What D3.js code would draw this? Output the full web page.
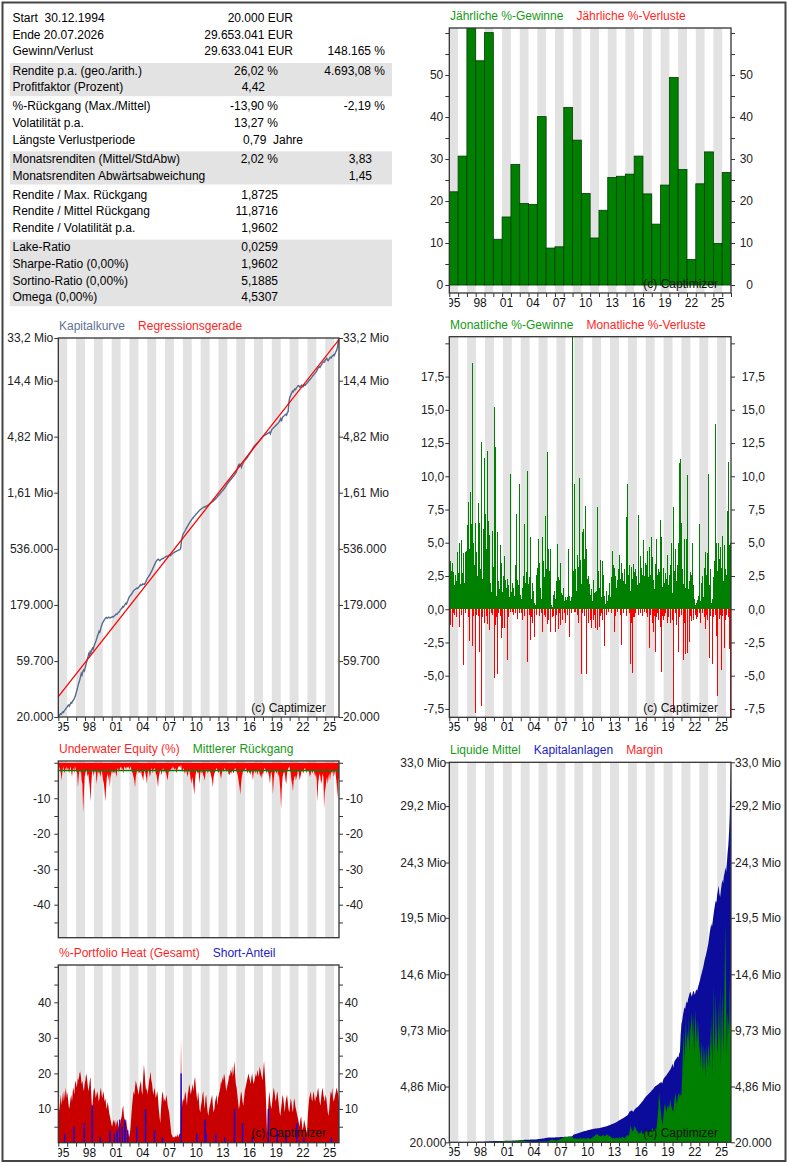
<!DOCTYPE html>
<html>
<head><meta charset="utf-8">
<style>
  body { margin: 0; background: #fff; }
  svg text { font-family: "Liberation Sans", Arial, sans-serif; font-size: 12px; }
</style>
</head>
<body>
<script src="https://d3js.org/d3.v7.min.js"></script>
<script>
// ---------------- data ----------------
var statLabels = ['Start  30.12.1994', 'Ende 20.07.2026', 'Gewinn/Verlust', 'Rendite p.a. (geo./arith.)',
  'Profitfaktor (Prozent)', '%-Rückgang (Max./Mittel)', 'Volatilität p.a.', 'Längste Verlustperiode',
  'Monatsrenditen (Mittel/StdAbw)', 'Monatsrenditen Abwärtsabweichung', 'Rendite / Max. Rückgang',
  'Rendite / Mittel Rückgang', 'Rendite / Volatilität p.a.', 'Lake-Ratio', 'Sharpe-Ratio (0,00%)',
  'Sortino-Ratio (0,00%)', 'Omega (0,00%)'];
var statValues = ['20.000 EUR', '29.653.041 EUR', '29.633.041 EUR', '26,02 %', '4,42', '-13,90 %', '13,27 %',
  '0,79  Jahre', '2,02 %', '', '1,8725', '11,8716', '1,9602', '0,0259', '1,9602', '5,1885', '4,5307'];
var statExtra = ['', '', '148.165 %', '4.693,08 %', '', '-2,19 %', '', '', '3,83', '1,45', '', '', '', '', '', '', ''];
var statGroups = [0, 0, 0, 1, 1, 2, 2, 2, 3, 3, 4, 4, 4, 5, 5, 5, 5];
var shadedGroups = [1, 3, 5];

var startDate = 1995.0, endDate = 2026.55;   // 30.12.1994 .. 20.07.2026
var startCapital = 20000;
var meanDrawdown = -2.19;

var yearTickLabels = ['95', '98', '01', '04', '07', '10', '13', '16', '19', '22', '25'];

// yearly gains 1995..2026 (%)
var yearlyGains = [22.2, 30.7, 61.5, 53.4, 60.1, 10.9, 16.2, 28.7, 19.4, 19.2, 40.1, 8.8, 9.1, 42.3, 34.5, 21.8,
  11.2, 17.8, 25.6, 25.9, 26.4, 30.7, 21.7, 14.5, 23.8, 49.4, 27.5, 6.1, 24.1, 31.7, 9.9, 26.8];
var yearlyLosses = [];
var yearlyAxisLabels = [0, 10, 20, 30, 40, 50];

// equity at month end, thousand EUR, Jan 1995 .. Jul 2026
var equityK = [
  20.4, 20.9, 21.3, 21.1, 21.7, 22.1, 21.9, 22.6, 23.0, 23.4, 23.9, 24.4,
  24.9, 25.3, 24.8, 25.7, 26.4, 26.2, 27.1, 27.6, 28.2, 29.1, 30.3, 31.9,
  33.6, 35.5, 37.8, 39.4, 41.5, 44.0, 46.9, 45.4, 48.6, 50.2, 49.1, 51.7,
  54.8, 58.0, 61.5, 64.3, 68.9, 67.0, 71.8, 69.6, 73.9, 76.8, 75.0, 79.4,
  82.6, 86.0, 89.2, 93.5, 98.4, 102.0, 106.8, 105.1, 111.2, 117.9, 123.5, 127.1,
  129.8, 133.5, 136.4, 138.9, 140.2, 137.8, 139.6, 141.4, 140.0, 139.1, 140.5, 140.9,
  142.3, 141.0, 143.8, 145.2, 146.9, 149.5, 148.6, 151.8, 154.3, 156.2, 159.8, 163.8,
  166.0, 168.7, 173.4, 171.9, 177.0, 180.6, 184.8, 182.4, 189.9, 196.5, 204.8, 210.8,
  214.2, 217.5, 222.4, 227.6, 233.8, 238.0, 240.9, 243.5, 246.8, 249.2, 247.0, 251.7,
  256.0, 260.8, 266.5, 262.4, 264.8, 270.2, 268.6, 267.1, 272.8, 281.4, 290.6, 300.0,
  306.5, 314.2, 320.0, 328.8, 339.5, 346.3, 359.0, 371.2, 383.6, 394.0, 408.5, 420.3,
  428.0, 434.9, 438.2, 431.5, 425.8, 433.0, 437.6, 441.0, 444.3, 447.1, 452.0, 457.3,
  461.0, 465.8, 460.2, 467.4, 472.9, 477.3, 470.8, 475.2, 481.0, 488.6, 494.5, 498.9,
  502.3, 507.6, 511.0, 514.8, 518.3, 522.9, 526.4, 529.0, 540.5, 612.0, 668.0, 710.0,
  728.5, 746.0, 764.3, 786.8, 808.1, 830.6, 849.2, 871.4, 893.0, 912.7, 933.5, 954.8,
  972.0, 990.4, 1008.6, 1025.3, 1041.0, 1060.2, 1078.8, 1095.5, 1112.0, 1129.8, 1146.3, 1163.0,
  1175, 1188, 1196, 1211, 1221, 1215, 1231, 1243, 1250, 1264, 1278, 1293,
  1309, 1322, 1341, 1353, 1370, 1388, 1405, 1422, 1446, 1470, 1497, 1523,
  1548, 1580, 1604, 1632, 1661, 1688, 1720, 1748, 1780, 1821, 1868, 1913,
  1950, 1987, 2022, 2059, 2095, 2135, 2172, 2209, 2250, 2296, 2351, 2409,
  2520, 2650, 2760, 2700, 2811, 2750, 2640, 2760, 2850, 2930, 3000, 3045,
  3090, 3150, 3221, 3296, 3373, 3451, 3531, 3612, 3701, 3795, 3885, 3980,
  4042, 4106, 4170, 4235, 4301, 4369, 4437, 4506, 4578, 4651, 4738, 4843,
  4890, 4933, 4975, 5020, 5066, 5113, 5160, 5208, 5266, 5100, 5320, 5546,
  5620, 5700, 5785, 5871, 5960, 6050, 6145, 6241, 6340, 6471, 6650, 6866,
  6500, 6900, 7105, 7190, 7280, 7380, 7481, 7350, 7720, 7850, 9400, 10257,
  10600, 11050, 11400, 11750, 11600, 12000, 12250, 12100, 12480, 12700, 12950, 13078,
  12900, 12650, 12950, 13200, 13050, 12800, 13100, 13300, 13150, 13400, 13650, 13876,
  14100, 14400, 14650, 14900, 15150, 15450, 15800, 16050, 16300, 16600, 16900, 17220,
  17700, 18200, 18600, 19000, 18700, 19200, 19700, 20200, 20600, 21000, 20800, 21500,
  21900, 22300, 21600, 21300, 21900, 22400, 22800, 22500, 23100, 23400, 23900, 23500,
  24200, 25100, 25800, 26900, 28600, 32900, 29653];

// regression line end points [date, EUR]
var regressionLine = [[1995.0, 29760], [2026.55, 32200000]];
var capitalTicks = [20000, 59700, 179000, 536000, 1610000, 4820000, 14400000, 33200000];
var capitalTickLabels = ['20.000', '59.700', '179.000', '536.000', '1,61 Mio', '4,82 Mio', '14,4 Mio', '33,2 Mio'];

// monthly gross gains / losses (%), Jan 1995 .. Jul 2026
var monthlyGains = [
  3.4, 3.6, 2.9, 1.2, 3.5, 2.8, 1.8, 2.6, 0.4, 2.1, 1.6, 4.3,
  2.7, 5.0, 1.9, 0.3, 5.2, 2.7, 1.4, 4.2, 2.0, 4.3, 3.1, 4.4,
  6.3, 8.1, 3.0, 4.5, 8.8, 6.4, 3.2, 18.5, 5.0, 3.3, 6.5, 6.0,
  4.3, 2.5, 8.0, 5.1, 6.5, 3.0, 12.6, 1.2, 2.3, 6.0, 11.4, 3.3,
  7.2, 4.5, 5.7, 11.9, 6.6, 3.0, 5.6, 2.0, 1.3, 4.1, 5.9, 3.2,
  15.2, 12.2, 4.3, 1.0, 5.8, 0.6, 2.1, 1.5, 4.8, 2.0, 3.5, 1.3,
  2.5, 4.0, 2.8, 2.2, 1.6, 0.5, 2.3, 1.8, 0.9, 10.2, 2.1, 1.3,
  2.0, 0.9, 1.6, 1.0, 3.3, 0.7, 7.2, 2.2, 0.4, 1.8, 9.4, 1.1,
  0.8, 0.5, 1.6, 2.5, 4.2, 6.4, 2.0, 2.8, 5.2, 10.4, 1.9, 2.4,
  5.4, 1.5, 0.8, 2.0, 1.4, 0.9, 0.5, 0.3, 1.2, 2.6, 3.1, 5.3,
  2.2, 3.5, 1.6, 0.8, 5.4, 4.4, 3.6, 2.4, 4.0, 7.0, 3.0, 11.8,
  4.4, 4.5, 2.9, 4.5, 0.5, 0.3, 0.2, 0.4, 1.1, 1.4, 0.8, 2.1,
  1.3, 4.9, 2.4, 2.2, 1.8, 3.5, 1.2, 0.7, 1.1, 1.6, 0.6, 0.9,
  0.5, 0.7, 0.9, 4.5, 0.4, 1.0, 0.6, 0.8, 0.9, 21.5, 2.9, 9.4,
  2.2, 3.0, 1.4, 4.1, 2.5, 3.2, 9.9, 2.8, 3.7, 1.9, 5.8, 2.6,
  6.0, 3.8, 7.8, 2.4, 4.5, 2.3, 1.6, 2.5, 1.9, 1.1, 0.8, 1.5,
  0.6, 2.2, 1.2, 0.9, 1.3, 1.4, 0.8, 7.7, 2.9, 1.6, 3.7, 1.5,
  0.9, 3.6, 2.6, 1.8, 1.0, 0.4, 0.3, 1.4, 0.6, 1.1, 2.0, 1.3,
  0.9, 2.4, 4.4, 2.7, 3.3, 1.8, 3.1, 2.5, 1.6, 2.2, 2.0, 3.0,
  4.1, 2.3, 1.8, 3.5, 2.7, 2.1, 1.5, 3.0, 1.9, 6.9, 2.4, 9.4,
  2.6, 3.3, 2.0, 1.4, 3.2, 2.3, 1.6, 3.4, 2.8, 3.0, 2.2, 2.5,
  1.8, 2.1, 7.1, 2.0, 4.0, 3.1, 2.0, 2.6, 1.7, 5.2, 2.5, 3.5,
  2.8, 3.3, 4.4, 2.4, 3.7, 4.7, 2.6, 5.4, 3.9, 3.0, 2.2, 1.5,
  2.1, 3.4, 5.3, 2.6, 3.0, 1.9, 2.8, 6.7, 2.5, 5.4, 1.7, 3.1,
  2.0, 1.4, 2.7, 2.3, 3.2, 4.1, 1.8, 2.6, 2.0, 3.3, 5.0, 1.2,
  2.4, 7.7, 2.9, 1.8, 4.5, 2.1, 3.3, 5.0, 2.6, 11.0, 11.3, 4.0,
  6.5, 3.0, 1.9, 5.3, 2.4, 1.6, 5.3, 3.8, 10.1, 1.5, 2.1, 2.8,
  1.9, 2.6, 5.0, 1.1, 1.8, 0.8, 0.3, 0.4, 0.5, 0.7, 1.0, 6.4,
  1.2, 0.6, 2.0, 1.3, 2.5, 0.9, 3.1, 4.3, 1.4, 2.6, 4.2, 2.3,
  10.2, 1.8, 3.0, 1.2, 0.5, 0.8, 1.9, 2.4, 3.6, 13.9, 3.2, 5.0,
  2.9, 5.0, 3.8, 2.2, 4.7, 3.1, 5.5, 2.6, 2.1, 4.8, 1.9, 3.0,
  2.6, 7.4, 11.1, 3.5, 4.8, 5.0, 4.6];
var monthlyLosses = [
  -0.8, -1.2, 0, -1.3, 0, -0.3, -0.4, 0, 0, -0.6, 0, 0,
  0, -1.3, 0, 0, -0.4, 0, -0.5, -4.2, 0, -0.3, 0, 0,
  0, -0.6, 0, -2.4, 0, 0, -1.0, -2.8, -0.5, 0, -7.8, 0,
  -0.4, 0, -0.5, 0, -3.2, 0, 0, -7.3, -0.6, 0, -1.0, 0,
  0, -0.5, 0, -1.1, 0, -1.6, -0.8, 0, -0.3, 0, -0.4, 0,
  -5.2, -1.2, 0, -0.6, -4.9, 0, -0.3, 0, -0.5, -2.2, 0, -1.4,
  0, -0.5, -1.4, 0, 0, -3.8, 0, -0.6, 0, 0, -0.2, 0,
  -0.2, 0, -0.4, 0, -0.3, 0, 0, -0.7, 0, 0, -0.3, 0,
  0, -0.3, -0.8, 0, 0, -0.5, 0, 0, -4.0, -3.5, 0, -0.4,
  -2.3, 0, -0.6, -1.0, 0, 0, -2.1, 0, -0.3, -0.4, 0, 0,
  -0.5, 0, 0, -0.3, -1.7, 0, 0, -0.4, -0.6, 0, 0, -1.1,
  0, -0.8, 0, -0.3, -1.7, 0, -0.6, 0, -0.5, 0, -1.7, 0,
  -0.4, 0, -1.5, 0, -0.3, -1.2, 0, -0.5, -0.8, 0, -0.3, 0,
  -1.0, 0, -0.4, 0, 0, -2.1, 0, -0.3, 0, 0, 0, -0.2,
  0, -0.2, 0, -0.4, 0, -1.0, 0, 0, 0, -4.9, 0, -0.3,
  0, -0.5, 0, 0, -4.9, 0, -0.6, -1.0, 0, -0.8, -0.5, -1.4,
  0, -0.8, -0.4, 0, -1.4, 0, -1.6, -0.3, 0, -1.3, -0.5, 0,
  -0.3, -0.8, 0, 0, -2.8, 0, -0.4, 0, 0, -0.2, 0, 0,
  0, -0.3, 0, 0, 0, -1.7, 0, -0.5, 0, 0, -0.2, 0,
  0, 0, -0.4, -2.7, 0, 0, -0.3, 0, 0, 0, -0.5, 0,
  0, -0.3, 0, -4.1, -1.0, -2.0, -4.8, -0.6, -0.6, 0, -0.3, 0,
  0, -0.4, 0, 0, -0.3, 0, 0, -0.5, 0, 0, -0.2, 0,
  -0.3, 0, -0.6, 0, -2.9, 0, -0.4, 0, -1.0, 0, -1.7, -0.5,
  -3.2, 0, -0.6, -0.3, 0, -0.8, 0, -1.3, 0, -4.7, -0.5, -0.8,
  0, -0.5, -0.3, 0, -1.0, 0, -0.6, 0, -1.0, -0.4, 0, -0.8,
  -7.8, -0.5, 0, -0.3, 0, -1.2, 0, -3.2, 0, -0.6, 0, 0,
  -0.4, 0, -3.8, -1.0, 0, -3.4, 0, -0.8, -3.3, 0, -2.5, -0.5,
  0, -0.9, 0, -0.5, -0.8, 0, -0.4, -0.7, 0, -0.6, 0, -0.3,
  0, -1.0, 0, -0.3, 0, 0, -0.6, -1.5, 0, -0.4, 0, -0.8,
  0, -3.7, 0, -0.5, 0, -4.1, 0, -0.6, 0, -0.4, -2.0, 0,
  -6.5, 0, -0.7, 0, -0.4, -4.6, 0, -0.5, 0, -2.9, -0.8, 0,
  -0.4, 0, -0.6, 0, -3.0, -8.5, 0];
var monthlyAxisLabels = [-7.5, -5, -2.5, 0, 2.5, 5, 7.5, 10, 12.5, 15, 17.5];

// underwater equity, worst value per month (%)
var underwater = [
  -0.5, -1.5, -2, -3, -5, -2.5, -1, -2, -3, -1.5, -2, -1,
  -2, -1.5, -3, -2, -1, -2.5, -4, -2, -1.5, -3, -1, -2,
  -2.5, -3, -7, -4, -2, -3, -2, -5, -6, -14, -9, -4,
  -3, -2, -2.5, -4, -3, -5, -7, -11, -6, -3, -2, -4,
  -2, -3, -2, -6, -4, -2, -3, -2.5, -4, -3, -2, -3.5,
  -5, -6, -8, -11, -7, -4, -3, -5, -3, -7, -4, -3,
  -2, -3, -2.5, -3, -2, -3, -4, -2, -1.5, -2.5, -2, -1.5,
  -1, -2, -1.5, -3, -2, -1, -1.5, -2, -1, -1.5, -1, -2,
  -1.5, -1, -2, -2.5, -3, -4, -5, -7, -4, -3, -2, -2,
  -3, -2.5, -3, -2, -3.5, -4, -5, -3, -2, -3, -4, -6,
  -3, -2, -2.5, -4, -3, -1.5, -2, -3, -2, -1.5, -2, -3,
  -3.5, -5, -7, -4, -3, -2, -2.5, -3.5, -2, -1.5, -3, -2,
  -2.5, -3, -4, -5, -3, -2, -2.5, -2, -1.5, -2, -1, -1.5,
  -2, -1.5, -2, -3, -2, -1.5, -1, -1, -1.5, -0.5, -2, -2.5,
  -1.5, -2, -3, -2.5, -2, -3, -4, -2.5, -2, -3, -4.5, -6,
  -4, -5, -7, -9, -5, -3, -2, -3, -2.5, -3, -6, -3,
  -2, -3, -2.5, -3.5, -4, -5, -3, -2, -2, -3, -2.5, -2,
  -2.5, -3, -4, -5, -7, -4, -3, -2.5, -2, -1.5, -2, -2.5,
  -3, -2, -3.5, -4.5, -3, -2, -2.5, -2, -1.5, -2, -2.5, -2,
  -2, -3, -3.5, -3, -2.5, -3, -2, -2.5, -3, -2, -1.5, -2,
  -2.5, -3, -4, -5.5, -7, -9, -6, -4, -3, -2, -2.5, -2,
  -1.5, -2, -2.5, -3, -2, -3, -2.5, -3.5, -2, -3, -5, -3,
  -2, -2.5, -3, -2, -3.5, -2.5, -2, -3, -4, -3, -4.5, -3,
  -3, -2, -1.5, -2, -2.5, -3, -2, -3, -4, -6, -3, -2.5,
  -4, -9, -5, -3, -2, -2.5, -3, -2, -4, -3, -5, -8,
  -13, -7, -4, -3, -2.5, -3, -5, -6, -3, -2, -1.5, -1,
  -2, -3, -5, -6, -8, -5, -4, -3.5, -5, -4, -3, -2,
  -3, -5, -4, -3, -2, -2.5, -3, -2, -1.5, -2, -3, -2,
  -2.5, -2, -3, -4, -3, -2, -3, -2.5, -2, -3, -4, -3,
  -5, -11, -6, -4, -3, -4, -6, -5, -3, -4, -13, -8,
  -7, -5, -4, -6, -4, -3, -5, -3, -2.5, -3, -2, -4,
  -3, -2, -4, -6, -10, -5, -4];
var underwaterAxisLabels = [-40, -30, -20, -10];

// portfolio heat per month (%)
var heat = [
  9, 10, 12, 14, 11, 13, 15, 12, 14, 16, 13, 15,
  14, 12, 10, 11, 13, 14, 12, 15, 16, 14, 17, 18,
  16, 17, 19, 18, 20, 20.5, 19, 17, 18, 16, 15, 17,
  18, 20, 19, 17, 15, 16, 18, 19, 14, 10, 12, 15,
  16, 15, 13, 14, 15, 14, 12, 13, 15, 16, 14, 13,
  15, 14, 12, 13, 11, 10, 12, 11, 9, 8, 7, 6,
  5, 6, 7, 6, 7, 5, 6, 7, 6, 5, 4, 6,
  7, 8, 10, 11, 8, 7, 6, 7, 5, 4, 3, 2,
  3, 5, 8, 11, 13, 15, 14, 16, 18, 17, 16, 15,
  14, 16, 17, 18, 15, 14, 19, 22.5, 20, 17, 15, 16,
  14, 16, 18, 19, 20.5, 18, 17, 15, 14, 16, 15, 13,
  14, 15, 13, 10, 8, 6, 10, 13, 15, 14, 12, 13,
  12, 14, 13, 11, 10, 9, 7, 5, 3, 2.5, 2, 2,
  2, 2, 2.5, 2, 3, 2, 2.5, 3, 3, 30, 10, 12,
  13, 12, 14, 15, 13, 11, 14, 15, 17, 16, 14, 15,
  16, 17, 15, 18, 19, 16, 14, 12, 15, 13, 10, 9,
  11, 12, 14, 15, 12, 10, 13, 14, 11, 9, 8, 10,
  11, 12, 13, 14, 11, 9, 10, 12, 13, 14, 11, 13,
  14, 15, 16, 18, 17, 19, 18, 20, 19, 17, 15, 16,
  17, 18, 20, 19, 21, 20, 22, 19, 21, 23.5, 20, 17,
  16, 14, 12, 10, 11, 13, 15, 14, 12, 11, 13, 15,
  16, 17, 18, 19, 20, 19, 18, 17, 19, 20, 18, 17,
  18, 19, 20, 19, 21, 20, 19, 22, 21, 20, 19, 18,
  21, 23.5, 20, 16, 10, 3, 8, 12, 15, 13, 11, 10,
  12, 14, 16, 15, 13, 12, 14, 15, 13, 11, 9, 8,
  10, 12, 14, 13, 11, 9, 12, 13, 14, 12, 10, 9,
  11, 13, 12, 10, 9, 12, 13, 11, 10, 9, 8, 7,
  6, 5, 7, 8, 6, 4, 5, 7, 6, 5, 4, 3,
  8, 11, 13, 14, 15, 13, 12, 14, 15, 13, 12, 14,
  13, 15, 16, 14, 12, 11, 13, 15, 16, 14, 13, 12,
  14, 13, 11, 9, 8, 10, 13, 15, 14, 16, 13, 12,
  13, 14, 15, 16, 15, 14, 12];
// short share spikes [date, %]
var shortSpikes = [[1995.7, 3], [1996.75, 5], [1997.9, 6], [1998.8, 11], [1999.7, 2], [2000.8, 4], [2001.3, 3],
  [2001.6, 4], [2001.9, 7], [2002.2, 5], [2002.5, 7], [2002.8, 4], [2003.8, 5], [2004.8, 10], [2005.8, 4],
  [2006.7, 2], [2008.8, 20], [2010.55, 3], [2011.5, 7], [2011.6, 3], [2012.7, 3], [2013.7, 2], [2014.8, 10],
  [2015.7, 6], [2016.8, 2], [2018.6, 10], [2019.6, 4], [2020.6, 3], [2021.8, 6], [2022.6, 2], [2025.7, 2]];
var heatAxisLabels = [10, 20, 30, 40];

// liquid cash as share of equity per month (%)
var cashPct = [
  55, 48, 40, 35, 38, 42, 45, 40, 36, 33, 30, 35,
  40, 38, 45, 42, 36, 34, 30, 32, 28, 25, 30, 27,
  25, 28, 22, 20, 26, 24, 30, 35, 28, 25, 32, 30,
  28, 30, 33, 35, 30, 40, 32, 38, 45, 35, 30, 33,
  35, 38, 40, 36, 33, 30, 35, 32, 38, 40, 42, 45,
  48, 50, 55, 60, 58, 62, 65, 68, 70, 72, 75, 78,
  80, 82, 85, 83, 86, 88, 85, 82, 84, 86, 88, 85,
  80, 78, 75, 72, 76, 80, 82, 85, 88, 90, 92, 94,
  90, 85, 78, 70, 60, 55, 45, 40, 42, 38, 36, 35,
  38, 32, 30, 28, 25, 22, 26, 30, 28, 24, 20, 22,
  25, 28, 24, 22, 20, 25, 30, 26, 22, 20, 24, 28,
  30, 32, 38, 45, 55, 60, 52, 48, 45, 42, 40, 38,
  42, 45, 50, 55, 60, 65, 70, 78, 85, 90, 92, 94,
  95, 96, 95, 94, 95, 96, 96, 95, 93, 70, 55, 50,
  52, 48, 45, 42, 40, 38, 42, 45, 40, 36, 34, 38,
  40, 35, 32, 30, 34, 38, 36, 33, 30, 28, 32, 35,
  38, 42, 45, 50, 55, 60, 58, 52, 48, 45, 42, 40,
  45, 50, 48, 44, 40, 42, 46, 50, 45, 40, 38, 35,
  32, 28, 25, 22, 24, 20, 22, 25, 23, 20, 18, 22,
  24, 20, 18, 22, 25, 20, 18, 16, 20, 24, 28, 25,
  22, 30, 45, 55, 40, 35, 38, 42, 50, 45, 38, 35,
  30, 25, 28, 22, 26, 30, 24, 20, 22, 25, 28, 24,
  22, 25, 20, 18, 22, 24, 20, 26, 28, 22, 20, 24,
  26, 22, 30, 45, 60, 85, 70, 55, 40, 35, 30, 45,
  55, 60, 50, 45, 50, 55, 48, 52, 60, 50, 45, 40,
  42, 48, 55, 60, 50, 45, 52, 58, 55, 50, 45, 40,
  55, 70, 85, 60, 75, 90, 65, 80, 70, 85, 60, 75,
  80, 90, 70, 85, 60, 75, 88, 72, 65, 80, 70, 60,
  55, 45, 60, 50, 40, 55, 48, 35, 52, 45, 38, 50,
  45, 35, 55, 40, 60, 30, 70, 45, 38, 62, 50, 40,
  35, 55, 40, 65, 30, 48, 58, 35, 45, 60, 80, 55,
  30, 45, 40, 35, 50, 30, 35];
var liquidTicks = [20000, 4860000, 9730000, 14600000, 19500000, 24300000, 29200000, 33000000];
var liquidTickLabels = ['20.000', '4,86 Mio', '9,73 Mio', '14,6 Mio', '19,5 Mio', '24,3 Mio', '29,2 Mio', '33,0 Mio'];

// ---------------- drawing ----------------
var GREEN = '#008000', RED = '#ff0000', NAVY = '#0c0c9c';
var GREEN_TXT = '#179a17', RED_TXT = '#ff1f1f', BLUE_TXT = '#1c1cc8', SLATE = '#5f7398';
var de = d3.formatLocale({decimal: ',', thousands: '.', grouping: [3], currency: ['', ' EUR'], minus: '-'});

var W = 789, H = 1165;
var svg = d3.select('body').append('svg').attr('width', W).attr('height', H);

svg.append('rect').attr('x', 2.5).attr('y', 2.5).attr('width', 783).attr('height', 1158.5)
  .attr('fill', 'none').attr('stroke', '#444').attr('stroke-width', 2);

// statistics table
var rowY = function(i) { return 22 + i * 16.7 + statGroups[i] * 2.4; };
shadedGroups.forEach(function(gi) {
  var rows = d3.range(statLabels.length).filter(function(i) { return statGroups[i] === gi; });
  svg.append('rect').attr('x', 10).attr('width', 382)
    .attr('y', rowY(rows[0]) - 11.5)
    .attr('height', rowY(rows[rows.length - 1]) - rowY(rows[0]) + 16.5)
    .attr('fill', '#e3e3e3');
});

function placeValue(sel, v, colEnd) {
  if (/EUR$/.test(v)) sel.attr('x', colEnd + 15).attr('text-anchor', 'end');
  else if (/Jahre/.test(v)) sel.attr('x', colEnd - 35).attr('text-anchor', 'start');
  else if (/%$/.test(v) || /,\d{4}$/.test(v)) sel.attr('x', colEnd).attr('text-anchor', 'end');
  else sel.attr('x', colEnd - 13).attr('text-anchor', 'end');
}

var table = svg.append('g');
statLabels.forEach(function(lab, i) {
  table.append('text').attr('x', 12.5).attr('y', rowY(i)).style('white-space', 'pre').text(lab);
  if (statValues[i]) {
    var t = table.append('text').attr('y', rowY(i)).style('white-space', 'pre').text(statValues[i]);
    placeValue(t, statValues[i], 278);
  }
  if (statExtra[i]) {
    var t2 = table.append('text').attr('y', rowY(i)).style('white-space', 'pre').text(statExtra[i]);
    placeValue(t2, statExtra[i], 385);
  }
});

var clipCount = 0;
function labelYear(s) { return +s < 50 ? 2000 + +s : 1900 + +s; }

function panel(o) {
  var x = d3.scaleLinear().domain(o.xDomain).range([o.left, o.right]);
  var y = o.y.range([o.bottom, o.top]);
  var g = svg.append('g');
  var cid = 'clip' + (clipCount++);
  g.append('clipPath').attr('id', cid).append('rect')
    .attr('x', o.left).attr('y', o.top).attr('width', o.right - o.left).attr('height', o.bottom - o.top);

  var bandYears = d3.range(Math.floor(o.xDomain[0]), Math.ceil(o.xDomain[1]))
    .filter(function(d) { return d % 2 === 1; });
  g.append('g').selectAll('rect').data(bandYears).join('rect')
    .attr('x', function(d) { return x(d); })
    .attr('width', function(d) { return x(Math.min(d + 1, o.xDomain[1])) - x(d); })
    .attr('y', o.top).attr('height', o.bottom - o.top).attr('fill', '#e2e2e2');

  var plot = g.append('g').attr('clip-path', 'url(#' + cid + ')');
  o.draw(plot, x, y);

  if (o.copyright) {
    g.append('text').attr('x', o.right - 13).attr('y', o.bottom - 5.5)
      .attr('text-anchor', 'end').attr('fill', '#111').text('(c) Captimizer');
  }

  g.append('rect').attr('x', o.left).attr('y', o.top)
    .attr('width', o.right - o.left).attr('height', o.bottom - o.top)
    .attr('fill', 'none').attr('stroke', '#333').attr('stroke-width', 1.3);

  var la = g.append('g').attr('transform', 'translate(' + o.left + ',0)')
    .call(d3.axisLeft(y).tickValues(o.yTicks).tickSize(4).tickSizeOuter(0)
      .tickPadding(o.lpad - 4).tickFormat(o.yLabel));
  var ra = g.append('g').attr('transform', 'translate(' + o.right + ',0)')
    .call(d3.axisRight(y).tickValues(o.yTicks).tickSize(4).tickSizeOuter(0).tickFormat(o.yLabel));
  ra.selectAll('text').attr('x', o.rOff).attr('text-anchor', o.rAnchor);
  [la, ra].forEach(function(a) {
    a.select('.domain').remove();
    a.attr('font-size', null).attr('font-family', null).attr('color', '#222');
    a.selectAll('line').attr('stroke', '#333');
  });

  if (o.xAxis) {
    var xa = g.append('g').attr('transform', 'translate(0,' + o.bottom + ')')
      .call(d3.axisBottom(x).tickValues(d3.range(Math.ceil(o.xDomain[0]), Math.floor(o.xDomain[1]) + 1))
        .tickSize(4).tickSizeOuter(0).tickFormat(''));
    xa.select('.domain').remove();
    xa.selectAll('line').attr('stroke', '#333');
    var xcid = 'clip' + (clipCount++);
    g.append('clipPath').attr('id', xcid).append('rect')
      .attr('x', o.left).attr('y', o.bottom).attr('width', o.right - o.left + 2).attr('height', 20);
    g.append('g').attr('clip-path', 'url(#' + xcid + ')')
      .selectAll('text').data(yearTickLabels).join('text')
      .attr('x', function(d) { return x(labelYear(d) + 0.5); })
      .attr('y', o.bottom + 14).attr('text-anchor', 'middle').attr('fill', '#111')
      .text(function(d) { return d; });
  }

  var lx = o.left + 0.7;
  o.legend.forEach(function(item) {
    var t = g.append('text').attr('x', lx).attr('y', o.top - 8).attr('fill', item[1]).text(item[0]);
    lx += t.node().getComputedTextLength() + 13;
  });
}

function monthDate(i) { return 1995 + i / 12; }

// yearly returns
panel({
  left: 449.3, right: 731, top: 28, bottom: 293, xDomain: [1995, 2027],
  y: d3.scaleLinear().domain([-1.9, 61.2]),
  yTicks: d3.range(0, 61, 5),
  yLabel: function(d) { return yearlyAxisLabels.indexOf(d) >= 0 ? String(d) : ''; },
  lpad: 6, rAnchor: 'end', rOff: 22, xAxis: true, copyright: true,
  legend: [['Jährliche %-Gewinne', GREEN_TXT], ['Jährliche %-Verluste', RED_TXT]],
  draw: function(p, x, y) {
    p.selectAll('rect.gain').data(yearlyGains).join('rect').attr('class', 'gain')
      .attr('x', function(d, i) { return x(1995 + i); })
      .attr('width', function(d, i) { return x(1996 + i) - x(1995 + i); })
      .attr('y', function(d) { return y(d); })
      .attr('height', function(d) { return y(0) - y(d); })
      .attr('fill', GREEN).attr('stroke', '#003c00').attr('stroke-width', 0.8);
    p.selectAll('rect.loss').data(yearlyLosses).join('rect').attr('class', 'loss')
      .attr('x', function(d, i) { return x(1995 + i); })
      .attr('width', function(d, i) { return x(1996 + i) - x(1995 + i); })
      .attr('y', y(0)).attr('height', function(d) { return y(d) - y(0); }).attr('fill', RED);
  }
});

var equityPts = [[startDate, startCapital]].concat(equityK.map(function(v, i) {
  return [Math.min(monthDate(i + 1), endDate), v * 1000];
}));

// capital curve (log)
panel({
  left: 58.3, right: 339, top: 338, bottom: 717, xDomain: [startDate, endDate],
  y: d3.scaleLog().domain([20000, 33200000]),
  yTicks: capitalTicks,
  yLabel: function(d, i) { return capitalTickLabels[capitalTicks.indexOf(d)]; },
  lpad: 5, rAnchor: 'start', rOff: 4, xAxis: true, copyright: true,
  legend: [['Kapitalkurve', SLATE], ['Regressionsgerade', RED_TXT]],
  draw: function(p, x, y) {
    var line = d3.line().x(function(d) { return x(d[0]); }).y(function(d) { return y(d[1]); });
    p.append('path').datum(equityPts).attr('d', line)
      .attr('fill', 'none').attr('stroke', '#56698e').attr('stroke-width', 1.4);
    p.append('path').datum(regressionLine).attr('d', line)
      .attr('fill', 'none').attr('stroke', RED).attr('stroke-width', 1.3);
  }
});

// monthly gains / losses
panel({
  left: 449.3, right: 731, top: 336.7, bottom: 717.3, xDomain: [startDate, endDate],
  y: d3.scaleLinear().domain([-8.13, 20.5]),
  yTicks: d3.range(-7.5, 20.01, 2.5),
  yLabel: function(d) { return monthlyAxisLabels.indexOf(d) >= 0 ? de.format('.1f')(d) : ''; },
  lpad: 5, rAnchor: 'end', rOff: 34, xAxis: true, copyright: true,
  legend: [['Monatliche %-Gewinne', GREEN_TXT], ['Monatliche %-Verluste', RED_TXT]],
  draw: function(p, x, y) {
    var bw = Math.max(1, x(monthDate(1)) - x(monthDate(0)));
    p.selectAll('rect.gain').data(monthlyGains).join('rect').attr('class', 'gain')
      .attr('x', function(d, i) { return x(monthDate(i)); }).attr('width', bw)
      .attr('y', function(d) { return y(d); })
      .attr('height', function(d) { return y(0) - y(d); })
      .attr('fill', GREEN).attr('shape-rendering', 'crispEdges');
    p.selectAll('rect.loss').data(monthlyLosses).join('rect').attr('class', 'loss')
      .attr('x', function(d, i) { return x(monthDate(i)); }).attr('width', bw)
      .attr('y', y(0))
      .attr('height', function(d) { return y(d) - y(0); })
      .attr('fill', RED).attr('shape-rendering', 'crispEdges');
  }
});

// underwater equity
panel({
  left: 58.3, right: 339, top: 761, bottom: 937.7, xDomain: [startDate, endDate],
  y: d3.scaleLinear().domain([-49.3, 0.5]),
  yTicks: d3.range(-45, 0.1, 5),
  yLabel: function(d) { return underwaterAxisLabels.indexOf(d) >= 0 ? de.format('d')(d) : ''; },
  lpad: 8, rAnchor: 'end', rOff: 24, xAxis: false, copyright: false,
  legend: [['Underwater Equity (%)', RED_TXT], ['Mittlerer Rückgang', GREEN_TXT]],
  draw: function(p, x, y) {
    var pts = [[startDate, 0]].concat(underwater.map(function(v, i) {
      return [Math.min(monthDate(i + 0.5), endDate), v];
    }));
    p.append('path').datum(pts)
      .attr('d', d3.area().x(function(d) { return x(d[0]); }).y0(y(0)).y1(function(d) { return y(d[1]); }))
      .attr('fill', RED);
    p.append('line').attr('x1', x(startDate)).attr('x2', x(endDate))
      .attr('y1', y(meanDrawdown)).attr('y2', y(meanDrawdown))
      .attr('stroke', GREEN).attr('stroke-width', 1.6);
  }
});

// portfolio heat
panel({
  left: 58.3, right: 339, top: 965, bottom: 1142.7, xDomain: [startDate, endDate],
  y: d3.scaleLinear().domain([0.5, 50.5]),
  yTicks: d3.range(5, 50.1, 5),
  yLabel: function(d) { return heatAxisLabels.indexOf(d) >= 0 ? String(d) : ''; },
  lpad: 7, rAnchor: 'end', rOff: 19, xAxis: true, copyright: true,
  legend: [['%-Portfolio Heat (Gesamt)', RED_TXT], ['Short-Anteil', BLUE_TXT]],
  draw: function(p, x, y) {
    var base = y.range()[0];
    var pts = [[startDate, heat[0]]].concat(heat.map(function(v, i) {
      return [Math.min(monthDate(i + 0.5), endDate), v];
    }));
    p.append('path').datum(pts)
      .attr('d', d3.area().x(function(d) { return x(d[0]); }).y0(base).y1(function(d) { return y(d[1]); }))
      .attr('fill', '#c80000');
    p.selectAll('rect.short').data(shortSpikes).join('rect').attr('class', 'short')
      .attr('x', function(d) { return x(d[0]) - 0.6; }).attr('width', 1.3)
      .attr('y', function(d) { return y(d[1]); })
      .attr('height', function(d) { return base - y(d[1]); })
      .attr('fill', '#0000ee');
  }
});

// liquid cash / investments
panel({
  left: 449.3, right: 731, top: 762.3, bottom: 1142.3, xDomain: [startDate, endDate],
  y: d3.scaleLinear().domain([20000, 33000000]),
  yTicks: liquidTicks,
  yLabel: function(d) { return liquidTickLabels[liquidTicks.indexOf(d)]; },
  lpad: 3, rAnchor: 'start', rOff: 4, xAxis: true, copyright: true,
  legend: [['Liquide Mittel', GREEN_TXT], ['Kapitalanlagen', BLUE_TXT], ['Margin', RED_TXT]],
  draw: function(p, x, y) {
    var base = y.range()[0];
    var area = d3.area().x(function(d) { return x(d[0]); }).y0(base).y1(function(d) { return y(d[1]); });
    p.append('path').datum(equityPts).attr('d', area).attr('fill', NAVY);
    var cashPts = [[startDate, startCapital]].concat(equityK.map(function(v, i) {
      return [Math.min(monthDate(i + 1), endDate), v * 1000 * cashPct[i] / 100];
    }));
    p.append('path').datum(cashPts).attr('d', area).attr('fill', GREEN);
  }
});
</script>
</body>
</html>
